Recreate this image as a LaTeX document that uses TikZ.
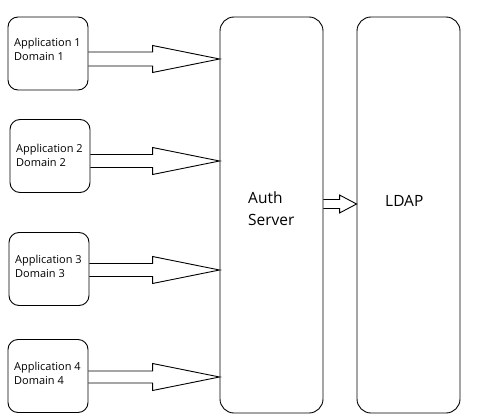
\documentclass[tikz,border=0pt]{standalone}
\usepackage{fontspec}
\setmainfont{Open Sans}
\usetikzlibrary{calc}
\tikzset{
  appbox/.style={draw, line width=0.9pt, rounded corners=10pt, minimum width=80pt, minimum height=73pt, inner sep=0pt},
  bigbox/.style={draw, line width=0.9pt, rounded corners=14pt, minimum width=103pt, minimum height=396pt, inner sep=0pt},
  apptext/.style={font=\fontsize{11}{13}\selectfont, inner sep=0pt, anchor=base west},
  bigtext/.style={font=\fontsize{15.5}{18}\selectfont, inner sep=0pt, anchor=base west},
  arrowline/.style={draw, line width=0.9pt, line join=miter}
}
\newcommand\blockarrow[5]{%
  \draw[arrowline] let \p1=(#1), \p2=(#2) in
    (\x1,\y2+#3pt) -- (\x2-#5pt,\y2+#3pt) -- (\x2-#5pt,\y2+#4pt) -- (\x2,\y2)
    -- (\x2-#5pt,\y2-#4pt) -- (\x2-#5pt,\y2-#3pt) -- (\x1,\y2-#3pt);}
\begin{document}
\begin{tikzpicture}[x=1pt,y=-1pt]
\useasboundingbox[fill=white] (0,0) rectangle (479,417);
% big boxes
\node[bigbox] (server) at (271.5,215) {};
\node[bigbox] (ldap) at (408.5,215) {};
\node[bigtext] (auth) at (248,203) {Auth};
\node[bigtext] (serv) at (248,225) {Server};
\node[bigtext] (ldapt) at (385,206) {LDAP};
% application boxes
\node[appbox] (app1) at (48,53.5) {};
\node[appbox] (app2) at (50,156) {};
\node[appbox] (app3) at (49,269) {};
\node[appbox] (app4) at (48,376) {};
\node[apptext] (a1) at (14,47) {Application 1};
\node[apptext] (d1) at (14,61) {Domain 1};
\node[apptext] (a2) at (16,152) {Application 2};
\node[apptext] (d2) at (16,166) {Domain 2};
\node[apptext] (a3) at (15,263) {Application 3};
\node[apptext] (d3) at (15,277) {Domain 3};
\node[apptext] (a4) at (14,370) {Application 4};
\node[apptext] (d4) at (14,384) {Domain 4};
% arrow tips
\coordinate (tip1) at (server.west |- 0,59);
\coordinate (tip2) at (server.west |- 0,161);
\coordinate (tip3) at (server.west |- 0,270);
\coordinate (tip4) at (server.west |- 0,377);
\coordinate (tail1) at (app1.east |- tip1);
\coordinate (tail2) at (app2.east |- tip2);
\coordinate (tail3) at (app3.east |- tip3);
\coordinate (tail4) at (app4.east |- tip4);
\coordinate (tip5) at (ldap.west |- 0,204);
\coordinate (tail5) at (server.east |- tip5);
\blockarrow{tail1}{tip1}{7}{13.5}{67}
\blockarrow{tail2}{tip2}{6.5}{13.5}{67}
\blockarrow{tail3}{tip3}{6.5}{13.5}{67}
\blockarrow{tail4}{tip4}{6}{13.5}{67}
\blockarrow{tail5}{tip5}{4.5}{9}{17}
\end{tikzpicture}
\end{document}
